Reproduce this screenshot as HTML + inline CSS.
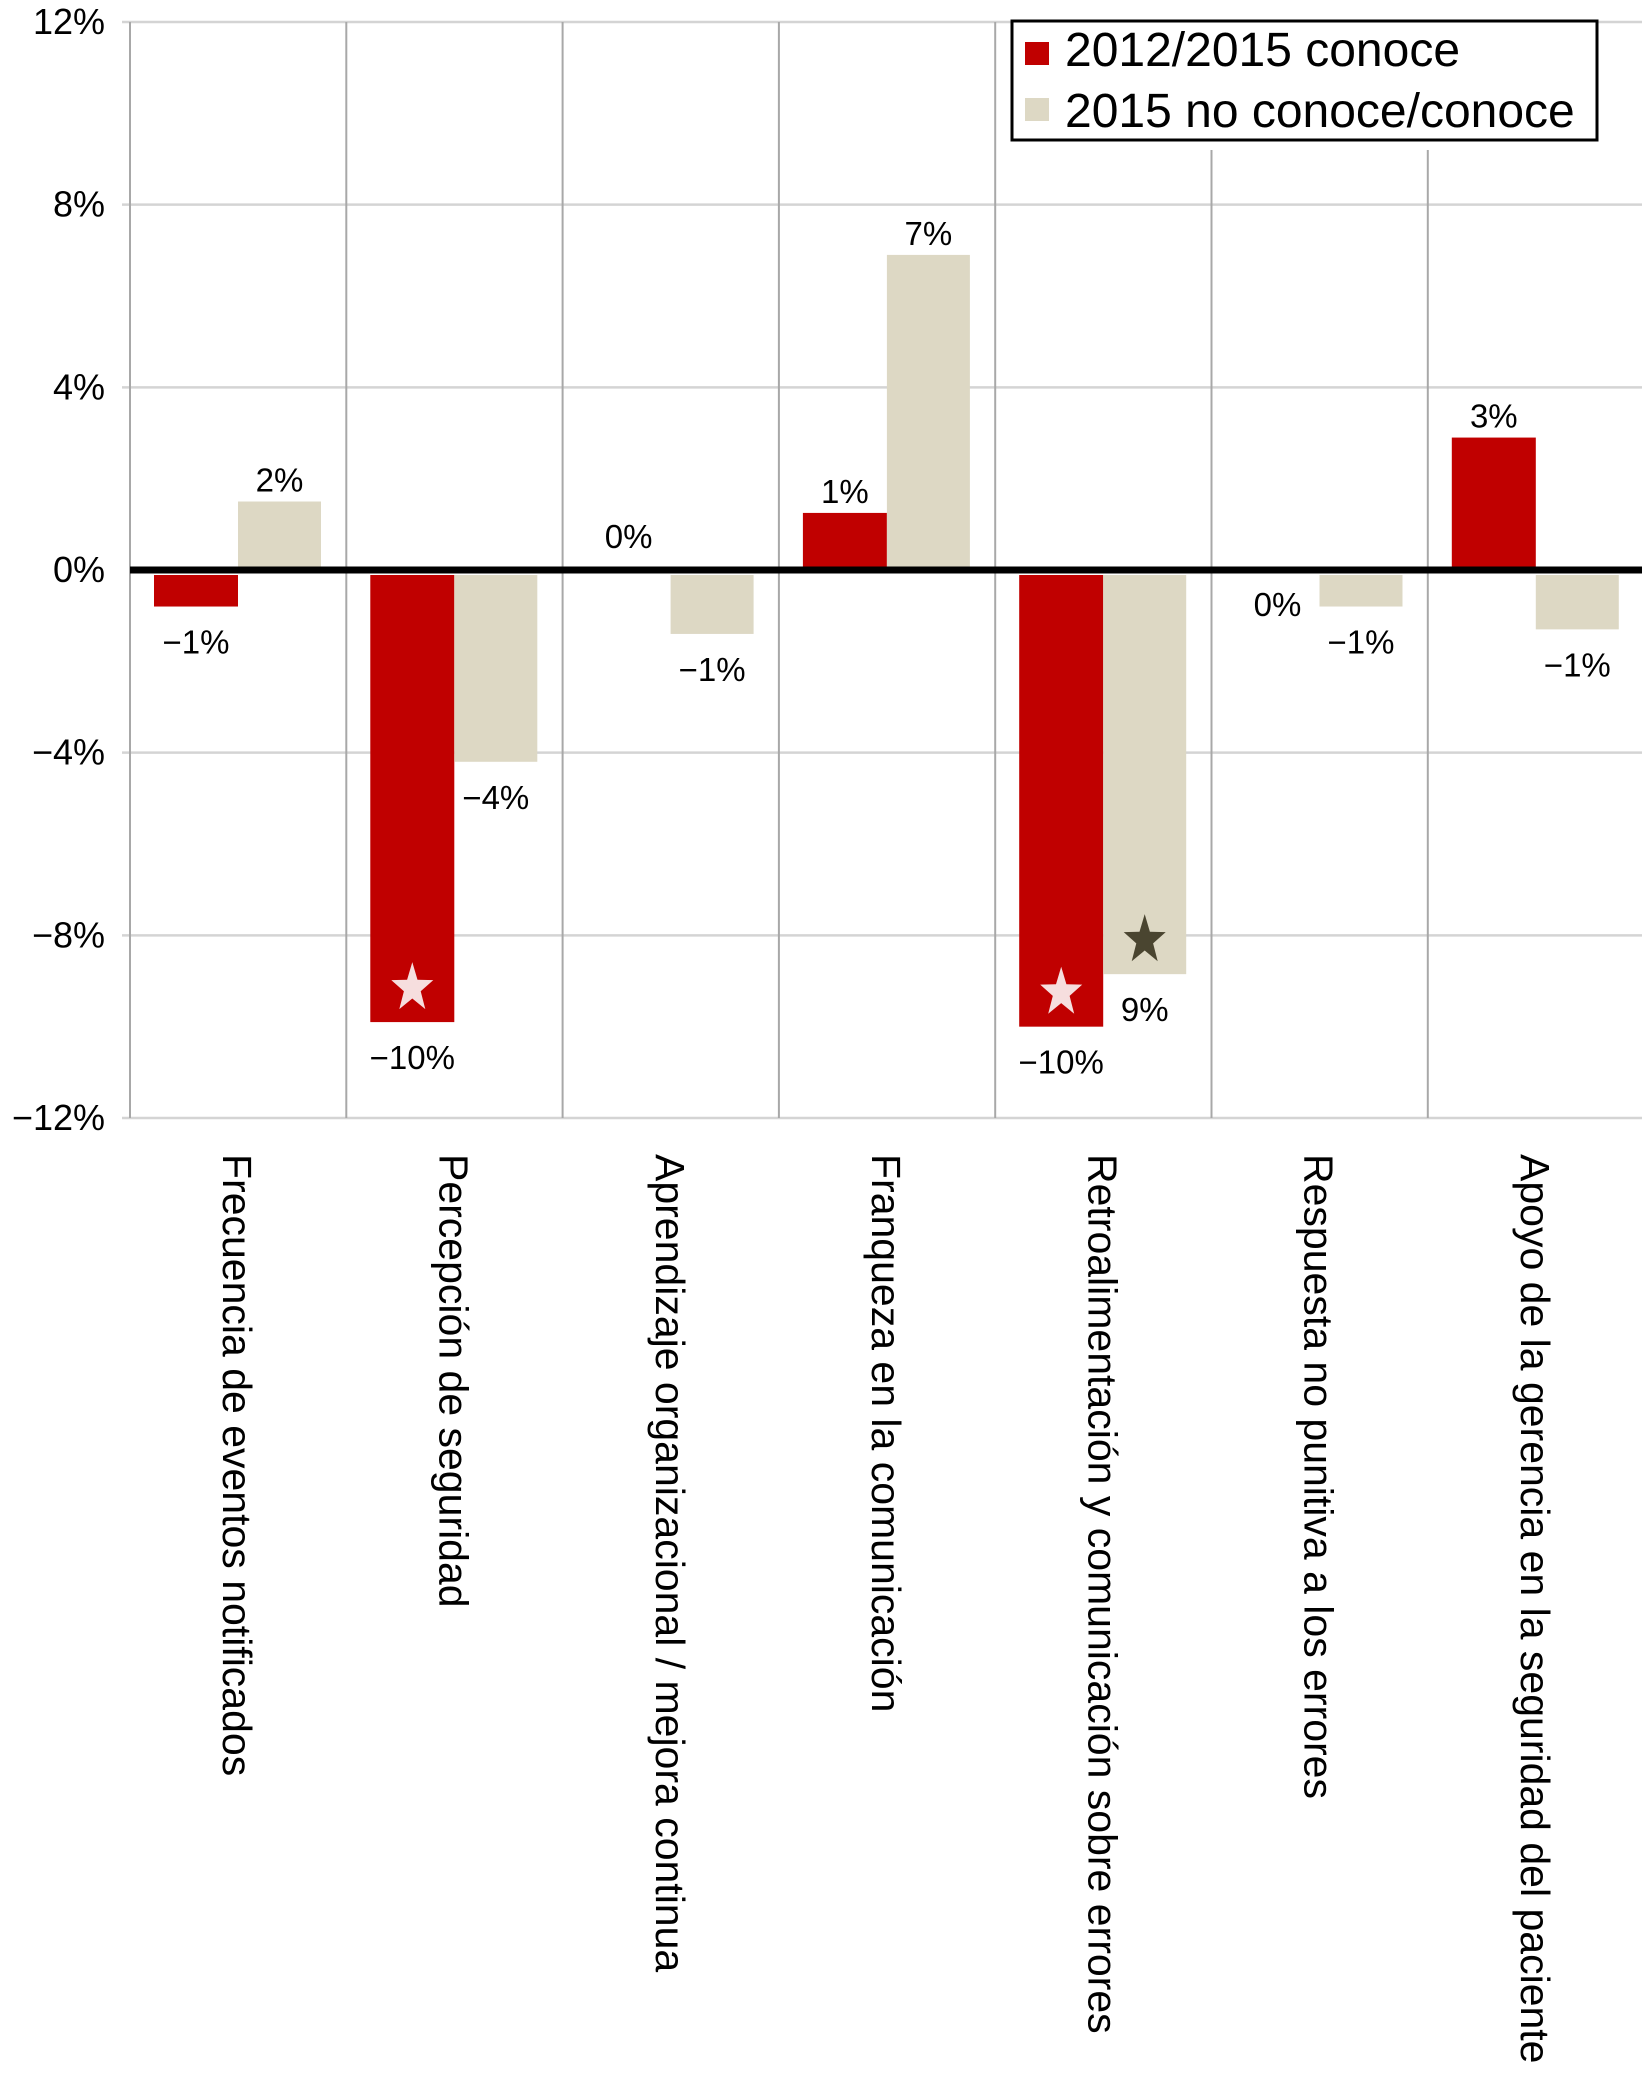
<!DOCTYPE html>
<html><head><meta charset="utf-8"><style>
html,body{margin:0;padding:0;background:#fff;}
svg{display:block;font-family:"Liberation Sans",Arial,sans-serif;}
</style></head><body>
<svg id="chart" width="1642" height="2074" viewBox="0 0 1642 2074" xmlns="http://www.w3.org/2000/svg">
<g id="grid"></g>
<g id="bars"></g>
<g id="labels"></g>
<g id="axis"></g>
<g id="legend">
  <rect x="1012" y="21" width="585" height="119" fill="#fff" stroke="#000" stroke-width="3"/>
  <rect x="1025" y="42" width="24" height="23" fill="#c00000"/>
  <text x="1065" y="66" font-size="48">2012/2015 conoce</text>
  <rect x="1025" y="98" width="24" height="23" fill="#ddd8c4"/>
  <text x="1065" y="127" font-size="48">2015 no conoce/conoce</text>
</g>
</svg>
<script>
const categories = ["Frecuencia de eventos notificados","Percepción de seguridad","Aprendizaje organizacional / mejora continua","Franqueza en la comunicación","Retroalimentación y comunicación sobre errores","Respuesta no punitiva a los errores","Apoyo de la gerencia en la seguridad del paciente"];
const seriesRed = [-0.8, -9.9, 0, 1.25, -10.0, 0, 2.9];
const seriesBeige = [1.5, -4.2, -1.4, 6.9, -8.85, -0.8, -1.3];
const labelsRed = ["−1%","−10%","0%","1%","−10%","0%","3%"];
const labelsBeige = ["2%","−4%","−1%","7%","9%","−1%","−1%"];
const zeroLabelAboveRed = [false,false,true,false,false,false,false];
const starRed = [false,true,false,false,true,false,false];
const starBeige = [false,false,false,false,true,false,false];
const yTicks = [12, 8, 4, 0, -4, -8, -12];
const yTickLabels = ["12%","8%","4%","0%","−4%","−8%","−12%"];

const NS = "http://www.w3.org/2000/svg";
const X0 = 130, GW = 216.3, Y0 = 570, PXPER = 548/12;
function yS(v){ return Y0 - v*PXPER; }
function gx(i){ return X0 + i*GW; }
function mk(tag, attrs, parent){ const e=document.createElementNS(NS,tag); for(const k in attrs) e.setAttribute(k,attrs[k]); parent.appendChild(e); return e; }
function starPts(cx,cy,R){ const r=R*0.4; let p=[]; for(let k=0;k<10;k++){ const a=-Math.PI/2+k*Math.PI/5; const rr=k%2?r:R; p.push((cx+rr*Math.cos(a)*0.85).toFixed(1)+','+(cy+rr*Math.sin(a)).toFixed(1)); } return p.join(' '); }
const grid=document.getElementById('grid'), bars=document.getElementById('bars'), labels=document.getElementById('labels'), axis=document.getElementById('axis');

yTicks.forEach((t,i)=>{
  if(t!==0){
    const l=mk('line',{x1:X0-8,x2:1642,y1:yS(t),y2:yS(t),stroke:'#d4d4d4','stroke-width':2.5},grid);
    
    
  }
  const tx=mk('text',{x:105,y:yS(t)+12,'font-size':36,'text-anchor':'end'},axis);
  tx.textContent=yTickLabels[i];
  
  
});
for(let i=0;i<categories.length;i++){
  const x=gx(i);
  const top = (x>1012 && x<1597) ? 150 : yS(12);
  const l=mk('line',{x1:x,x2:x,y1:top,y2:yS(-12),stroke:'#a8a8a8','stroke-width':2},grid);
  
  
}
categories.forEach((c,i)=>{
  const x=gx(i);
  const vals=[seriesRed[i],seriesBeige[i]];
  const fills=['#c00000','#ddd8c4'];
  const offs=[24,108], ws=[84,83];
  const labs=[labelsRed[i],labelsBeige[i]];
  const stars=[starRed[i],starBeige[i]];
  vals.forEach((v,s)=>{
    const bx=x+offs[s], cx=bx+ws[s]/2;
    let y1, h;
    if(v>=0){ y1=yS(v); h=Y0-3-y1; } else { y1=Y0+5; h=yS(v)-y1; }
    if(h>0 && v!==0){
      const r=mk('rect',{x:bx,y:y1,width:ws[s],height:h,fill:fills[s]},bars);
      
      
    }
    let ly;
    if(v>0 || (v===0 && s===0 && zeroLabelAboveRed[i])) ly = (v===0? Y0-22 : yS(v)-10);
    else ly = (v===0? Y0+46 : yS(v)+47);
    const t=mk('text',{x:cx,y:ly,'font-size':33,'text-anchor':'middle'},labels);
    t.textContent=labs[s];
    
    
    if(stars[s]){
      const sc = yS(v) - 34;
      const st=mk('polygon',{points:starPts(cx,sc,26),fill:s===0?'#f6dede':'#4a4530'},bars);
      
      
    }
  });
  const cl=mk('text',{x:0,y:0,'font-size':41,transform:'translate('+(x+GW/2-15)+',1154) rotate(90)'},axis);
  cl.textContent=c;
  
  
});
const zl=mk('line',{x1:X0,x2:1642,y1:Y0,y2:Y0,stroke:'#000','stroke-width':7},axis);


</script>
</body></html>
